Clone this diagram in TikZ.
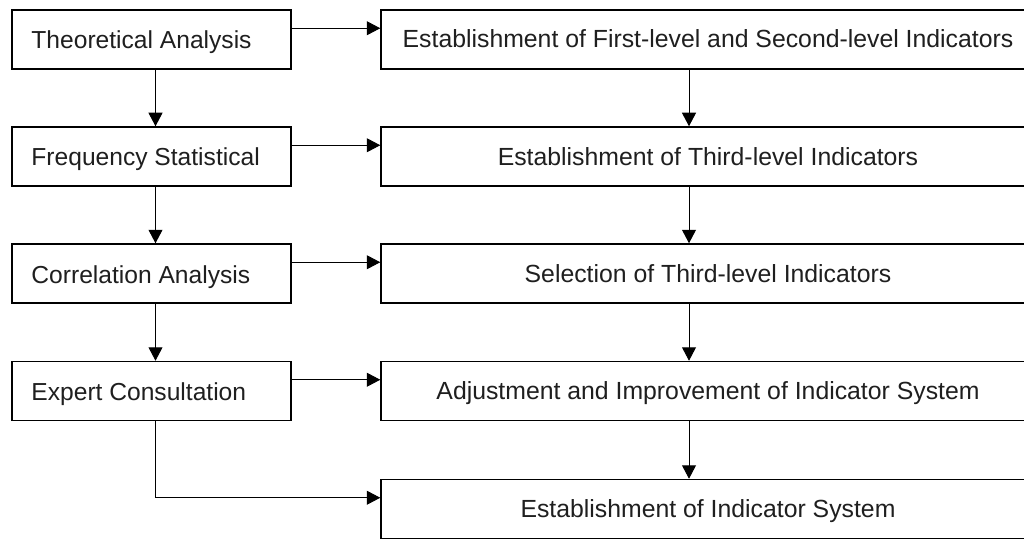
\documentclass[tikz,border=0pt]{standalone}
\usepackage{fontspec}
\setmainfont{Liberation Sans}
\usetikzlibrary{arrows.meta,calc}
\begin{document}
\begin{tikzpicture}[x=1pt,y=-1pt,
  leftbox/.style={draw, line width=1.5pt, minimum width=279pt, minimum height=59pt, inner sep=0pt},
  rightbox/.style={draw, line width=1.5pt, minimum width=654pt, minimum height=59pt, inner sep=0pt},
  lefttext/.style={inner sep=0pt, anchor=base west, font=\fontsize{24.6}{29}\selectfont, text=black!88},
  righttext/.style={inner sep=0pt, anchor=base, font=\fontsize{24.8}{29}\selectfont, text=black!88},
  conn/.style={line width=1pt, -{Triangle[length=13.5pt,width=14pt]}}]
\useasboundingbox (0,0) rectangle (1024,540);
\fill[white] (0,0) rectangle (1024,540);
\node[leftbox] (L1) at (151.5,39.5) {};
\node[leftbox] (L2) at (151.5,156.5) {};
\node[leftbox] (L3) at (151.5,273.5) {};
\node[leftbox] (L4) at (151.5,391) {};
\node[lefttext] (LT1) at ($(L1.west)+(20,9.5)$) {Theoretical Analysis};
\node[lefttext] (LT2) at ($(L2.west)+(20,9.5)$) {Frequency Statistical};
\node[lefttext] (LT3) at ($(L3.west)+(20,9.5)$) {Correlation Analysis};
\node[lefttext] (LT4) at ($(L4.west)+(20,9.5)$) {Expert Consultation};
\node[rightbox] (R1) at (708,39.5) {};
\node[rightbox] (R2) at (708,156.5) {};
\node[rightbox] (R3) at (708,273.5) {};
\node[rightbox] (R4) at (708,391) {};
\node[rightbox] (R5) at (708,509) {};
\node[righttext] (RT1) at ($(R1.center)+(0,8.5)$) {Establishment of First-level and Second-level Indicators};
\node[righttext] (RT2) at ($(R2.center)+(0,8.5)$) {Establishment of Third-level Indicators};
\node[righttext] (RT3) at ($(R3.center)+(0,8.5)$) {Selection of Third-level Indicators};
\node[righttext] (RT4) at ($(R4.center)+(0,8.5)$) {Adjustment and Improvement of Indicator System};
\node[righttext] (RT5) at ($(R5.center)+(0,8.5)$) {Establishment of Indicator System};
% horizontal arrows
\foreach \i in {1,2,3,4}{
  \draw[conn] ($(L\i.north east)+(0,19)$) -- ($(R\i.north west)+(0,19)$);
}
% left vertical arrows
\foreach \i/\j in {1/2,2/3,3/4}{
  \draw[conn] ($(L\i.south)+(4,0)$) -- ($(L\j.north)+(4,0)$);
}
% right vertical arrows
\foreach \i/\j in {1/2,2/3,3/4,4/5}{
  \draw[conn] ($(R\i.south)+(-19,0)$) -- ($(R\j.north)+(-19,0)$);
}
% expert to final
\draw[conn] ($(L4.south)+(4,0)$) |- ($(R5.north west)+(0,19)$);
\end{tikzpicture}
\end{document}
